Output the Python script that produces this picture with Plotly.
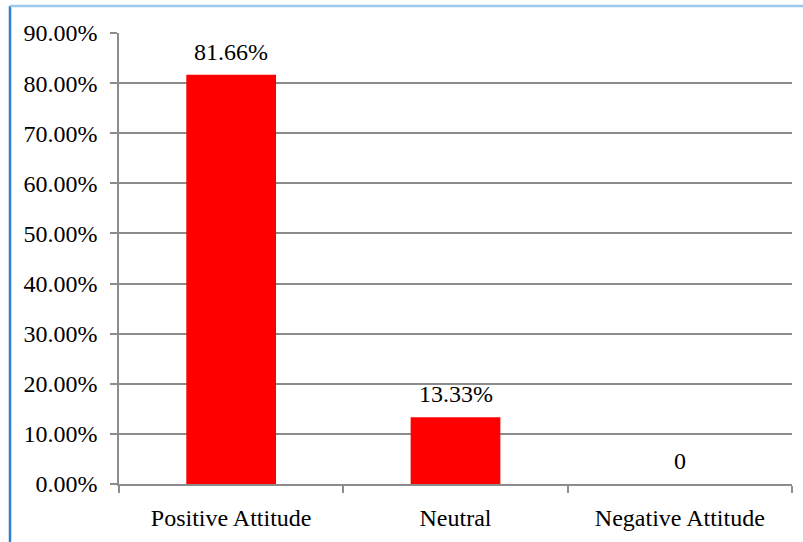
import plotly.graph_objects as go

categories = ["Positive Attitude", "Neutral", "Negative Attitude"]
values = [0.8166, 0.1333, 0.0]
value_labels = ["81.66%", "13.33%", "0"]
y_ticks = [i / 10 for i in range(10)]
y_tick_labels = [f"{v*100:.2f}%" for v in y_ticks]

W, H = 803, 542
L, R, T, B = 119, 11, 33, 58
pw = W - L - R
ph = H - T - B

FONT = "Liberation Serif"
FS = 24
GRID = "#8c8c8c"

fig = go.Figure()
fig.add_trace(go.Bar(
    x=categories, y=values,
    marker=dict(color="#ff0000", line=dict(width=0)),
    width=0.4,
    hoverinfo="skip",
))

for c, v, t in zip(categories, values, value_labels):
    fig.add_annotation(x=c, y=v, text=t, showarrow=False, yanchor="bottom",
                       yshift=8, font=dict(family=FONT, size=FS, color="#000"))

def px_x(p):
    return (p - L) / pw

def px_y(p):
    return 1 - (p - T) / ph

# outer frame lines
fig.add_shape(type="line", xref="paper", yref="paper",
              x0=px_x(10), x1=px_x(10), y0=px_y(6), y1=px_y(542),
              line=dict(color="#2f7fd0", width=2.5))
fig.add_shape(type="line", xref="paper", yref="paper",
              x0=px_x(10), x1=px_x(803), y0=px_y(6), y1=px_y(6),
              line=dict(color="#9cc8ee", width=2.5))

fig.update_layout(
    width=W, height=H,
    margin=dict(l=L, r=R, t=T, b=B, autoexpand=False),
    paper_bgcolor="white", plot_bgcolor="white",
    showlegend=False,
    font=dict(family=FONT, size=FS, color="#000"),
    xaxis=dict(
        showline=True, linecolor=GRID, linewidth=1.5,
        ticks="outside", ticklen=7, tickcolor=GRID, tickwidth=1.5,
        tickson="boundaries", showgrid=False,
        tickfont=dict(family=FONT, size=FS, color="#000"),
        ticklabelstandoff=11,
    ),
    yaxis=dict(
        range=[0, 0.9], tickvals=y_ticks + [0.9],
        ticktext=y_tick_labels + ["90.00%"],
        showline=True, linecolor=GRID, linewidth=1.5,
        ticks="outside", ticklen=7, tickcolor=GRID, tickwidth=1.5,
        showgrid=True, gridcolor=GRID, gridwidth=1.5,
        zeroline=False,
        tickfont=dict(family=FONT, size=FS, color="#000"),
        ticklabelstandoff=8,
    ),
)

fig.write_html("out.html", config={"displayModeBar": False},
               post_script="document.body.style.margin='0px';document.body.style.padding='0px';")
